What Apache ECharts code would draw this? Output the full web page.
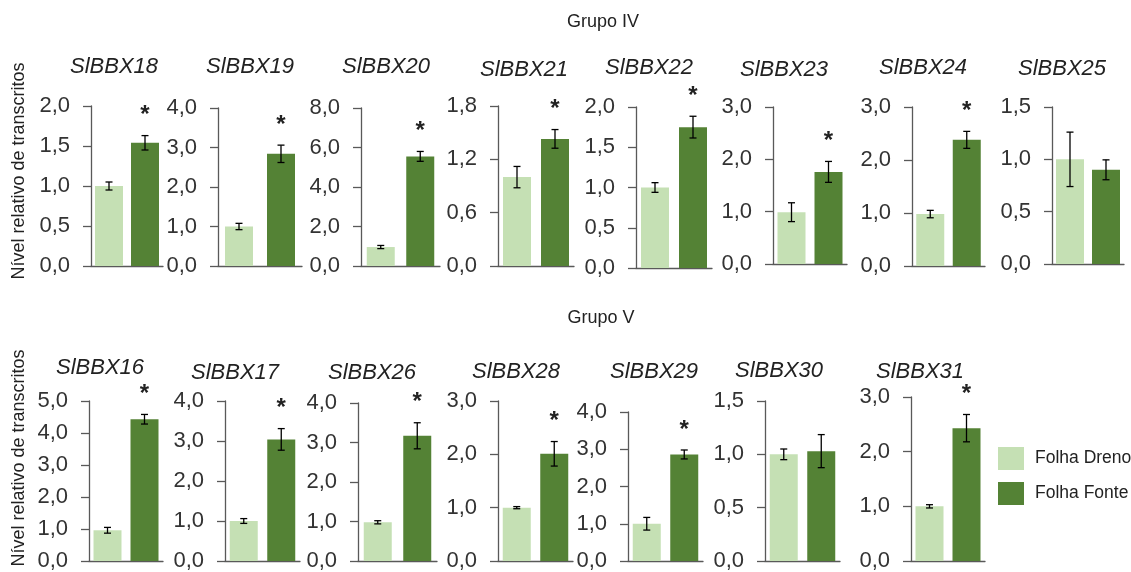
<!DOCTYPE html>
<html>
<head>
<meta charset="utf-8">
<script src="https://cdn.jsdelivr.net/npm/echarts@6/dist/echarts.min.js"></script>
<style>html,body{margin:0;padding:0;background:#fff;}#c{width:1131px;height:572px;}</style>
</head>
<body>
<div id="c"></div>
<script>
// ---- data ----
const genes = ['SlBBX18','SlBBX19','SlBBX20','SlBBX21','SlBBX22','SlBBX23','SlBBX24','SlBBX25',
               'SlBBX16','SlBBX17','SlBBX26','SlBBX28','SlBBX29','SlBBX30','SlBBX31'];
const categories = ['Folha Dreno','Folha Fonte'];
const dreno    = [1.00,1.00,0.96,1.00,1.00,0.99,0.98,1.00, 0.96,1.00,0.98,1.00,1.00,1.00,1.00];
const drenoErr = [0.05,0.08,0.08,0.12,0.06,0.18,0.07,0.26, 0.09,0.06,0.04,0.02,0.17,0.05,0.03];
const fonte    = [1.54,2.84,5.55,1.43,1.75,1.76,2.38,0.90, 4.43,3.04,3.17,2.01,2.86,1.03,2.43];
const fonteErr = [0.09,0.22,0.25,0.105,0.135,0.20,0.16,0.095, 0.15,0.27,0.33,0.23,0.12,0.155,0.25];
const signif   = [1,1,1,1,1,1,1,0, 1,1,1,1,1,0,1];
const yMax      = [2,4,8,1.8,2,3,3,1.5, 5,4,4,3,4,1.5,3];
const yInterval = [0.5,1,2,0.6,0.5,1,1,0.5, 1,1,1,1,1,0.5,1];
const groupTitles = ['Grupo IV','Grupo V'];
const yTitle = 'Nível relativo de transcritos';

// ---- layout (pixel geometry of each panel) ----
// [axisX, top, bottom, width]
const layout = [
  [91,106,266,72],[218,108,266,84],[361,108,266,79],[498,106,266,76],
  [636,107,268,76],[773,107,264,74],[912,107,266,73],[1052,107,264,72],
  [89,401,561,74],[225,401,561,75],[358,403,561,79],[498,401,561,75],
  [628,412,561,75],[765,401,562,75],[911,397,562,74]
];
const titlePos = [
  [114,67],[250,67],[386,67],[524,70],[649,68],[784,70],[923,68],[1062,69],
  [100,368],[235,373],[372,373],[516,372],[654,372],[779,371],[920,372]
];
const LIGHT = '#c5e0b4', DARK = '#548235';
const FONT = 'Liberation Sans, Arial, sans-serif';

const grids = [], xAxes = [], yAxes = [], series = [], graphics = [];
genes.forEach((g, i) => {
  const [ax, top, bottom, w] = layout[i];
  grids.push({left: ax, top: top, width: w, height: bottom - top, containLabel: false});
  xAxes.push({
    type: 'category', gridIndex: i, data: categories,
    axisLine: {show: true, lineStyle: {color: '#595959', width: 1.3}},
    axisTick: {show: false}, axisLabel: {show: false}, splitLine: {show: false}
  });
  yAxes.push({
    type: 'value', gridIndex: i, min: 0, max: yMax[i], interval: yInterval[i],
    axisLine: {show: true, lineStyle: {color: '#595959', width: 1.3}},
    axisTick: {show: true, length: 8, lineStyle: {color: '#595959', width: 1.3}},
    splitLine: {show: false},
    axisLabel: {
      margin: 21, color: '#333', fontSize: 22, fontFamily: FONT,
      formatter: v => v.toFixed(1).replace('.', ',')
    }
  });
  series.push({
    name: categories[0], type: 'bar', xAxisIndex: i, yAxisIndex: i, stack: 's' + i,
    barWidth: 28, itemStyle: {color: LIGHT}, data: [dreno[i], '-'], silent: true
  });
  series.push({
    name: categories[1], type: 'bar', xAxisIndex: i, yAxisIndex: i, stack: 's' + i,
    barWidth: 28, itemStyle: {color: DARK}, data: ['-', fonte[i]], silent: true
  });
  series.push({
    type: 'custom', xAxisIndex: i, yAxisIndex: i, silent: true, z: 10,
    data: [[0, dreno[i], drenoErr[i]], [1, fonte[i], fonteErr[i]]],
    renderItem: function (params, api) {
      const x = api.value(0), v = api.value(1), e = api.value(2);
      const hi = api.coord([x, v + e]), lo = api.coord([x, v - e]);
      const cw = 3.5;
      const st = {stroke: '#000', lineWidth: 1.3};
      return {type: 'group', children: [
        {type: 'line', shape: {x1: hi[0], y1: hi[1], x2: lo[0], y2: lo[1]}, style: st},
        {type: 'line', shape: {x1: hi[0]-cw, y1: hi[1], x2: hi[0]+cw, y2: hi[1]}, style: st},
        {type: 'line', shape: {x1: lo[0]-cw, y1: lo[1], x2: lo[0]+cw, y2: lo[1]}, style: st}
      ]};
    }
  });
  if (signif[i]) {
    series.push({
      type: 'custom', xAxisIndex: i, yAxisIndex: i, silent: true, z: 10,
      data: [[1, fonte[i] + fonteErr[i]]],
      renderItem: function (params, api) {
        const p = api.coord([api.value(0), api.value(1)]);
        return {type: 'text', x: p[0], y: p[1] - 8, style: {
          text: '*', fontSize: 24, fontWeight: 'bold', fontFamily: FONT, fill: '#222', align: 'center', verticalAlign: 'bottom'
        }};
      }
    });
  }
  graphics.push({type: 'text', x: titlePos[i][0], y: titlePos[i][1], silent: true, style: {
    text: g, fontSize: 22, fontStyle: 'italic', fontFamily: FONT, fill: '#222', align: 'center', verticalAlign: 'middle'
  }});
});

graphics.push({type: 'text', x: 603, y: 22, style: {text: groupTitles[0], fontSize: 18, fontFamily: FONT, fill: '#222', align: 'center', verticalAlign: 'middle'}});
graphics.push({type: 'text', x: 601, y: 318, style: {text: groupTitles[1], fontSize: 18, fontFamily: FONT, fill: '#222', align: 'center', verticalAlign: 'middle'}});
graphics.push({type: 'text', x: 19, y: 171, rotation: Math.PI / 2, style: {text: yTitle, fontSize: 18, fontFamily: FONT, fill: '#222', align: 'center', verticalAlign: 'middle'}});
graphics.push({type: 'text', x: 19, y: 458, rotation: Math.PI / 2, style: {text: yTitle, fontSize: 18, fontFamily: FONT, fill: '#222', align: 'center', verticalAlign: 'middle'}});

const chart = echarts.init(document.getElementById('c'), null, {renderer: 'canvas'});
chart.setOption({
  backgroundColor: '#fff',
  animation: false,
  grid: grids, xAxis: xAxes, yAxis: yAxes, series: series,
  legend: {
    data: categories, orient: 'vertical', left: 993, top: 442,
    itemWidth: 26, itemHeight: 23, itemGap: 12, icon: 'rect',
    textStyle: {fontSize: 17.5, fontFamily: FONT, color: '#222', padding: [0, 0, 0, 6]}
  },
  graphic: graphics
});
</script>
</body>
</html>
